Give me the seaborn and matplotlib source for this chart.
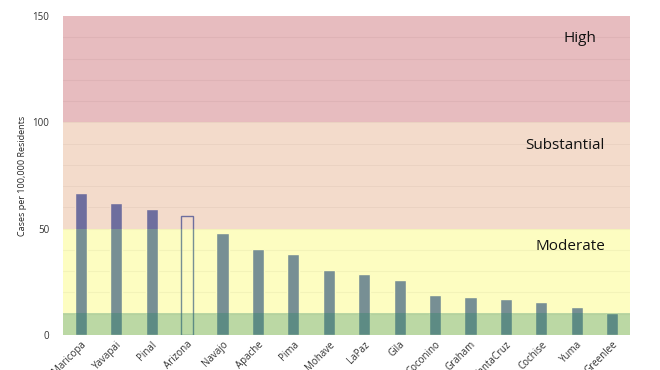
import matplotlib
matplotlib.use("Agg")
import matplotlib.pyplot as plt
import seaborn as sns
import pandas as pd

# County case rates (per 100,000 residents)
counties = ["Maricopa", "Yavapai", "Pinal", "Arizona", "Navajo", "Apache", "Pima", "Mohave",
            "LaPaz", "Gila", "Coconino", "Graham", "SantaCruz", "Cochise", "Yuma", "Greenlee"]
rates = [66.8, 62.1, 59.2, 55.9, 48.0, 40.4, 38.1, 30.6,
         28.7, 25.9, 18.8, 17.9, 16.9, 15.5, 13.2, 10.3]

# Risk bands
band_lows = [0, 10.5, 50, 100]
band_highs = [10.5, 50, 100, 150]
band_colors = ["#8abc62", "#fafa66", "#e3a77f", "#c5585f"]
band_alphas = [0.58, 0.4, 0.4, 0.4]
band_labels = ["", "Moderate", "Substantial", "High"]
label_y = [0, 41.4, 88.9, 139.6]
label_x = [0, 13.83, 13.66, 14.09]

df = pd.DataFrame({"County": counties, "Rate": rates})

sns.set_style("white")
plt.rcParams["font.family"] = ["Open Sans", "DejaVu Sans"]

fig = plt.figure(figsize=(6.6, 3.7), dpi=100)
ax = fig.add_axes([0.0955, 0.0946, 0.859, 0.862])

bar_color = "#2149b4"
sns.barplot(data=df, x="County", y="Rate", color=bar_color, width=0.34,
            saturation=1, ax=ax, zorder=1)
# state total drawn as hollow bar
ax.patches[3].set_facecolor("none")
ax.patches[3].set_edgecolor(bar_color)
ax.patches[3].set_linewidth(1.0)

# faint gridlines every 10
for y in range(10, 150, 10):
    ax.axhline(y, color="#f0f0f0", linewidth=0.8, zorder=0.5)

# translucent risk bands over the bars
for lo, hi, c, a in zip(band_lows, band_highs, band_colors, band_alphas):
    ax.axhspan(lo, hi, color=c, alpha=a, linewidth=0, zorder=2)

for lbl, lx, ly in zip(band_labels, label_x, label_y):
    if lbl:
        ax.text(lx, ly, lbl, ha="center", va="center", fontsize=11, color="#111111", zorder=3)

ax.set_xlim(-0.5, len(counties) - 0.5)
ax.set_ylim(0, 150)
ax.set_yticks([0, 50, 100, 150])
ax.set_xlabel("")
ax.set_ylabel("Cases per 100,000 Residents", fontsize=6.5, color="#222222")
ax.tick_params(axis="y", labelsize=7, colors="#333333", length=0, pad=10)
ax.tick_params(axis="x", labelsize=7, colors="#333333", length=0, pad=3)
plt.setp(ax.get_xticklabels(), rotation=45, ha="right", rotation_mode="anchor")
for s in ax.spines.values():
    s.set_visible(False)

fig.savefig("out.png", dpi=100)
